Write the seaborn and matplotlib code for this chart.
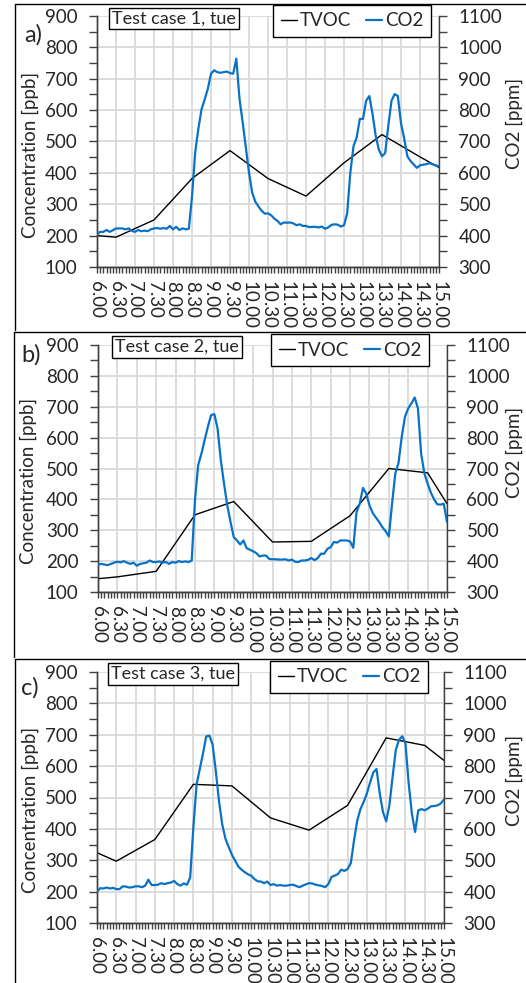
import numpy as np
import pandas as pd
import matplotlib
matplotlib.use("Agg")
import matplotlib.pyplot as plt
import seaborn as sns
from matplotlib.lines import Line2D
from matplotlib.ticker import MultipleLocator

# ---------------------------------------------------------------- data
tick_labels = ["6.00", "6.30", "7.00", "7.30", "8.00", "8.30", "9.00", "9.30",
               "10.00", "10.30", "11.00", "11.30", "12.00", "12.30", "13.00",
               "13.30", "14.00", "14.30", "15.00"]

# TVOC readings (ppb) at these clock times
tvoc_times = ["6.00", "6.30", "7.30", "8.30", "9.30", "10.30", "11.30",
              "12.30", "13.30", "14.30", "15.00"]
tvoc_case1 = [200, 195, 250, 382, 471, 382, 326, 432, 522, 451, 417]
tvoc_case2 = [143, 149, 167, 350, 393, 262, 264, 347, 500, 486, 386]
tvoc_case3 = [324, 297, 366, 542, 537, 435, 396, 475, 690, 666, 618]

# CO2 readings (ppm), logged every 5 minutes from 6.00 to 15.00
co2_start = "6.00"
co2_step_min = 5
co2_case1 = [
    404, 412, 412, 418, 412, 417, 423, 423, 423, 420, 423, 415,
    412, 418, 414, 416, 414, 420, 423, 424, 422, 424, 422, 431,
    420, 428, 418, 423, 420, 422, 524, 665, 740, 802, 834, 868,
    916, 927, 921, 919, 921, 923, 918, 916, 964, 836, 761, 681,
    601, 537, 508, 493, 479, 470, 471, 465, 454, 447, 436, 442,
    441, 442, 439, 433, 436, 431, 431, 427, 428, 428, 426, 429,
    422, 426, 434, 436, 435, 429, 433, 471, 601, 685, 713, 772,
    772, 830, 845, 788, 719, 674, 653, 663, 751, 830, 851, 845,
    758, 710, 653, 638, 627, 616, 624, 626, 628, 631, 627, 624,
    620]
co2_case2 = [
    389, 391, 389, 387, 391, 395, 398, 396, 400, 395, 391, 395,
    385, 391, 393, 395, 402, 397, 397, 399, 395, 397, 391, 397,
    395, 400, 397, 399, 397, 402, 597, 711, 748, 792, 835, 873,
    876, 830, 727, 651, 581, 527, 478, 467, 454, 467, 442, 437,
    432, 426, 415, 418, 418, 407, 406, 406, 405, 405, 406, 402,
    405, 398, 397, 402, 402, 404, 410, 403, 410, 424, 424, 440,
    445, 462, 460, 467, 467, 467, 464, 443, 559, 586, 637, 619,
    581, 556, 541, 527, 510, 497, 480, 586, 684, 718, 803, 868,
    895, 911, 930, 895, 748, 684, 651, 622, 600, 584, 583, 586,
    527]
co2_case3 = [
    400, 411, 410, 413, 410, 412, 408, 408, 417, 416, 413, 414,
    417, 417, 414, 419, 438, 421, 421, 422, 427, 424, 427, 429,
    434, 424, 419, 426, 422, 445, 606, 742, 791, 841, 895, 897,
    868, 782, 686, 613, 568, 542, 517, 499, 480, 470, 462, 455,
    451, 440, 433, 432, 427, 432, 421, 424, 419, 421, 419, 419,
    421, 422, 418, 414, 419, 423, 427, 426, 422, 420, 418, 414,
    424, 447, 451, 456, 470, 466, 472, 491, 563, 627, 663, 686,
    713, 748, 780, 791, 713, 654, 624, 675, 766, 852, 884, 895,
    873, 745, 649, 590, 659, 663, 659, 665, 672, 673, 675, 681,
    694]

panel_letters = ["a)", "b)", "c)"]
panel_titles = ["Test case 1, tue", "Test case 2, tue", "Test case 3, tue"]
series_names = ["TVOC", "CO2"]


def clock_to_hours(label):
    h, m = label.split(".")
    return int(h) + int(m) / 60.0


tick_hours = [clock_to_hours(t) for t in tick_labels]
tvoc_hours = [clock_to_hours(t) for t in tvoc_times]
co2_hours = clock_to_hours(co2_start) + np.arange(len(co2_case1)) * co2_step_min / 60.0

# ---------------------------------------------------------------- style
sns.set_style("white")
plt.rcParams["font.family"] = ["Lato", "DejaVu Sans"]
FS = 13.5

W, H = 526, 983
DPI = 100
fig = plt.figure(figsize=(W / DPI, H / DPI), dpi=DPI)


def fx(px):
    return px / W


def fy(py):
    return 1.0 - py / H


TVOC_COLOR = "black"
CO2_COLOR = "#0a72c6"
GRID_COLOR = "#d9d9d9"
AXIS_COLOR = "#404040"

# plot-area rectangles in pixels: left, top, right, bottom
layout = [
    dict(area=(97, 16, 439, 267), frame=(15, 4, 330), letter=(24, 35),
         ylab=(30, 155), y2lab=(514, 123), title=(174, 18.5),
         legend=(273, 5)),
    dict(area=(98, 345, 447, 592), frame=(14, 332, 657), letter=(21, 355),
         ylab=(28, 481), y2lab=(514, 452), title=(177, 347),
         legend=(271, 334)),
    dict(area=(97, 672, 444, 923), frame=(15, 659, 983), letter=(21, 688),
         ylab=(30, 810), y2lab=(514, 780), title=(173, 674),
         legend=(270, 661)),
]

tvoc_sets = [tvoc_case1, tvoc_case2, tvoc_case3]
co2_sets = [co2_case1, co2_case2, co2_case3]

for i in range(3):
    L = layout[i]
    l, t, r, b = L["area"]
    ax = fig.add_axes([fx(l), fy(b), (r - l) / W, (b - t) / H])
    ax2 = ax.twinx()

    df_tvoc = pd.DataFrame({"time": tvoc_hours, "value": tvoc_sets[i]})
    df_co2 = pd.DataFrame({"time": co2_hours, "value": co2_sets[i]})
    sns.lineplot(data=df_tvoc, x="time", y="value", ax=ax, color=TVOC_COLOR,
                 lw=1.0, zorder=3)
    sns.lineplot(data=df_co2, x="time", y="value", ax=ax2, color=CO2_COLOR,
                 lw=1.6, zorder=3)

    ax.set_xlim(6, 15)
    ax.set_ylim(100, 900)
    ax2.set_ylim(300, 1100)
    ax.set_xticks(tick_hours)
    ax.set_xticklabels(tick_labels, rotation=270, ha="center", va="top",
                       fontsize=FS)
    ax.xaxis.set_minor_locator(MultipleLocator(5 / 60.0))
    ax.yaxis.set_major_locator(MultipleLocator(100))
    ax.yaxis.set_minor_locator(MultipleLocator(50))
    ax2.yaxis.set_major_locator(MultipleLocator(100))
    ax2.yaxis.set_minor_locator(MultipleLocator(50))

    ax.grid(True, which="major", color=GRID_COLOR, lw=1.3)
    ax2.grid(False)
    ax.set_axisbelow(True)
    for a in (ax, ax2):
        a.set_xlabel("")
        a.set_ylabel("")
        a.spines["top"].set_visible(False)
        for s in ("left", "right", "bottom"):
            a.spines[s].set_color(AXIS_COLOR)
            a.spines[s].set_linewidth(1.0)
    ax.spines["right"].set_visible(False)

    ax.tick_params(axis="x", which="both", direction="out", length=4,
                   width=1, color=AXIS_COLOR, pad=6, labelsize=FS, bottom=True)
    ax.tick_params(axis="y", which="major", direction="out", length=6,
                   width=1, color=AXIS_COLOR, pad=8, labelsize=FS, left=True)
    ax.tick_params(axis="y", which="minor", direction="out", length=6,
                   width=1, color=AXIS_COLOR, left=True)
    ax2.tick_params(axis="y", which="major", direction="out", length=6,
                    width=1, color=AXIS_COLOR, pad=8, labelsize=FS, right=True)
    ax2.tick_params(axis="y", which="minor", direction="out", length=6,
                    width=1, color=AXIS_COLOR, right=True)

    # axis titles
    fig.text(fx(L["ylab"][0]), fy(L["ylab"][1]), "Concentration [ppb]",
             rotation=90, ha="center", va="center", fontsize=FS)
    fig.text(fx(L["y2lab"][0]), fy(L["y2lab"][1]), "CO2 [ppm]",
             rotation=90, ha="center", va="center", fontsize=FS)

    # panel letter
    fig.text(fx(L["letter"][0]), fy(L["letter"][1]), panel_letters[i],
             ha="left", va="center", fontsize=17)

    # case title in a boxed label
    fig.text(fx(L["title"][0]), fy(L["title"][1]), panel_titles[i],
             ha="center", va="center", fontsize=13, zorder=10,
             bbox=dict(boxstyle="square,pad=0.15", fc="white", ec="black",
                       lw=1.0))

    # legend
    handles = [Line2D([], [], color=TVOC_COLOR, lw=1.0),
               Line2D([], [], color=CO2_COLOR, lw=1.6)]
    leg = fig.legend(handles, series_names, ncol=2, loc="upper left",
                     bbox_to_anchor=(fx(L["legend"][0]), fy(L["legend"][1])),
                     frameon=True, fancybox=False, edgecolor="black",
                     framealpha=1, fontsize=FS, handlelength=0.9,
                     handletextpad=0.15, columnspacing=0.75, borderpad=0.4,
                     borderaxespad=0)
    leg.get_frame().set_linewidth(1.0)
    leg.set_zorder(10)

    # panel frame (top and left border)
    fx0, fy0, fy1 = L["frame"]
    fig.add_artist(Line2D([fx(fx0), 1.0], [fy(fy0), fy(fy0)],
                          color="black", lw=1.0))
    fig.add_artist(Line2D([fx(fx0), fx(fx0)], [fy(fy0), fy(fy1)],
                          color="black", lw=1.0))

fig.savefig("out.png", dpi=DPI)
